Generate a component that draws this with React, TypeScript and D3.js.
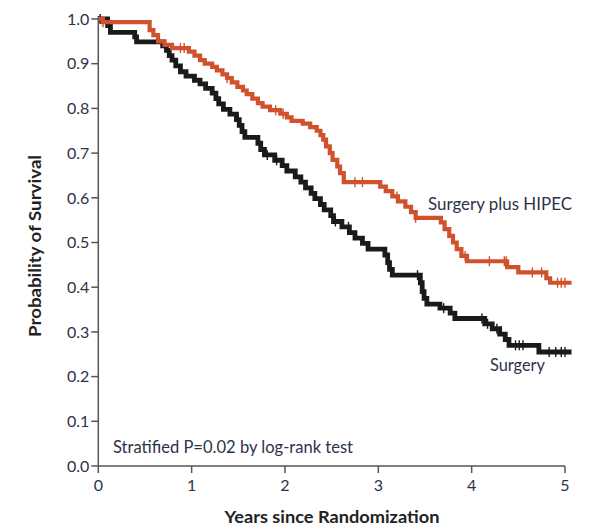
import React from "react";
import * as d3 from "d3";

// Kaplan–Meier step data: [years, survival probability after the event]
const hipecEvents: [number, number][] = [
  [0.05, 0.993], [0.55, 0.975], [0.59, 0.964], [0.64, 0.95], [0.71, 0.942], [0.79, 0.935],
  [0.97, 0.927], [1.03, 0.918], [1.09, 0.908], [1.14, 0.9], [1.22, 0.893], [1.27, 0.885],
  [1.33, 0.876], [1.38, 0.868], [1.43, 0.858], [1.49, 0.848], [1.55, 0.84], [1.59, 0.832],
  [1.65, 0.822], [1.71, 0.812], [1.76, 0.804], [1.84, 0.796], [1.95, 0.788], [2.02, 0.78],
  [2.07, 0.772], [2.19, 0.766], [2.27, 0.758], [2.34, 0.75], [2.38, 0.74], [2.41, 0.73],
  [2.44, 0.715], [2.48, 0.7], [2.51, 0.685], [2.56, 0.67], [2.59, 0.655], [2.63, 0.635],
  [3.02, 0.625], [3.08, 0.615], [3.15, 0.603], [3.21, 0.592], [3.29, 0.58], [3.35, 0.568],
  [3.4, 0.555], [3.67, 0.545], [3.71, 0.53], [3.76, 0.515], [3.8, 0.5], [3.84, 0.485],
  [3.89, 0.47], [3.95, 0.458], [4.38, 0.445], [4.5, 0.433], [4.8, 0.42], [4.84, 0.41],
];
const hipecCensored: number[] = [
  0.05, 0.88, 0.92, 1.38, 1.9, 1.98, 2.75, 2.83, 3.2, 3.4, 3.93, 4.19, 4.35, 4.37,
  4.65, 4.75, 4.92, 4.96, 5.0,
];

const surgeryEvents: [number, number][] = [
  [0.1, 0.985], [0.13, 0.97], [0.39, 0.96], [0.41, 0.949], [0.69, 0.94], [0.73, 0.93],
  [0.76, 0.918], [0.79, 0.908], [0.83, 0.895], [0.88, 0.882], [0.94, 0.872], [1.03, 0.863],
  [1.09, 0.855], [1.15, 0.845], [1.22, 0.834], [1.26, 0.822], [1.29, 0.81], [1.34, 0.798],
  [1.41, 0.787], [1.48, 0.775], [1.51, 0.762], [1.54, 0.748], [1.57, 0.735], [1.71, 0.722],
  [1.74, 0.708], [1.78, 0.696], [1.89, 0.684], [1.97, 0.672], [2.02, 0.66], [2.11, 0.647],
  [2.17, 0.635], [2.22, 0.622], [2.28, 0.61], [2.32, 0.598], [2.38, 0.585], [2.42, 0.573],
  [2.49, 0.56], [2.52, 0.547], [2.61, 0.535], [2.69, 0.522], [2.75, 0.51], [2.83, 0.498],
  [2.89, 0.485], [3.07, 0.472], [3.1, 0.455], [3.12, 0.44], [3.15, 0.427], [3.45, 0.41],
  [3.47, 0.39], [3.49, 0.375], [3.52, 0.362], [3.66, 0.353], [3.77, 0.342], [3.82, 0.33],
  [4.14, 0.318], [4.22, 0.307], [4.3, 0.295], [4.36, 0.283], [4.4, 0.27], [4.72, 0.255],
];
const surgeryCensored: number[] = [
  0.02, 1.5, 1.81, 1.91, 2.54, 2.68, 3.42, 3.7, 4.11, 4.17, 4.27, 4.47, 4.51, 4.55,
  4.83, 4.9, 4.96, 5.0,
];

const followUpEnd = 5.07;
const xTicks = [0, 1, 2, 3, 4, 5];
const yTicks = [0, 0.1, 0.2, 0.3, 0.4, 0.5, 0.6, 0.7, 0.8, 0.9, 1.0];

const W = 594;
const H = 528;
const FONT = "Lato, 'Open Sans', sans-serif";
const RED = "#d1512c";
const BLACK = "#1a1a1a";
const TICK_TEXT = "#2c3349";
const AXIS = "#555555";

const x = d3.scaleLinear().domain([0, 5]).range([98.3, 565]);
const y = d3.scaleLinear().domain([0, 1]).range([466, 19]);

function stepPoints(events: [number, number][]): [number, number][] {
  const pts: [number, number][] = [[0, 1], ...events];
  pts.push([followUpEnd, events[events.length - 1][1]]);
  return pts;
}

function survivalAt(events: [number, number][], t: number): number {
  let s = 1;
  for (const [et, es] of events) {
    if (et <= t) s = es;
    else break;
  }
  return s;
}

const line = d3
  .line<[number, number]>()
  .x((d) => x(d[0]))
  .y((d) => y(d[1]))
  .curve(d3.curveStepAfter);

function Curve({ events, censored, color, width }: {
  events: [number, number][];
  censored: number[];
  color: string;
  width: number;
}) {
  return (
    <g>
      <path d={line(stepPoints(events)) ?? ""} fill="none" stroke={color} strokeWidth={width} strokeLinejoin="miter" strokeLinecap="butt" />
      {censored.map((t, i) => {
        const cy = y(survivalAt(events, t));
        return (
          <line key={i} x1={x(t)} x2={x(t)} y1={cy - 5} y2={cy + 5} stroke={color} strokeWidth={1.4} />
        );
      })}
    </g>
  );
}

export default function App() {
  return (
    <svg
      width={W}
      height={H}
      viewBox={`0 0 ${W} ${H}`}
      style={{ position: "absolute", left: 0, top: 0, background: "#fff" }}
    >
      {/* axes */}
      <line x1={x(0)} x2={x(0)} y1={y(1) - 3} y2={y(0)} stroke={AXIS} strokeWidth={1.5} />
      <line x1={x(0)} x2={x(5)} y1={y(0)} y2={y(0)} stroke={AXIS} strokeWidth={1.5} />
      {yTicks.map((v) => (
        <g key={v}>
          <line x1={x(0) - 7} x2={x(0)} y1={y(v)} y2={y(v)} stroke={AXIS} strokeWidth={1.5} />
          <text x={x(0) - 9} y={y(v)} dy="0.36em" textAnchor="end" fontFamily={FONT} fontSize={16} fill={TICK_TEXT}>
            {v.toFixed(1)}
          </text>
        </g>
      ))}
      {xTicks.map((v) => (
        <g key={v}>
          <line x1={x(v)} x2={x(v)} y1={y(0)} y2={y(0) + 7} stroke={AXIS} strokeWidth={1.5} />
          <text x={x(v)} y={491} textAnchor="middle" fontFamily={FONT} fontSize={16} fill={TICK_TEXT}>
            {v}
          </text>
        </g>
      ))}

      {/* axis titles */}
      <text
        transform="translate(41,246) rotate(-90)"
        textAnchor="middle"
        fontFamily={FONT}
        fontWeight="bold"
        fontSize={17}
        textLength={182}
        lengthAdjust="spacingAndGlyphs"
        fill="#222"
      >
        Probability of Survival
      </text>
      <text
        x={332}
        y={523}
        textAnchor="middle"
        fontFamily={FONT}
        fontWeight="bold"
        fontSize={17}
        textLength={215}
        lengthAdjust="spacingAndGlyphs"
        fill="#222"
      >
        Years since Randomization
      </text>

      {/* survival curves */}
      <Curve events={surgeryEvents} censored={surgeryCensored} color={BLACK} width={4.8} />
      <Curve events={hipecEvents} censored={hipecCensored} color={RED} width={4.2} />

      {/* annotations */}
      <text x={428} y={210} fontFamily={FONT} fontSize={16.5} textLength={144} lengthAdjust="spacingAndGlyphs" fill={TICK_TEXT}>
        Surgery plus HIPEC
      </text>
      <text x={490} y={371} fontFamily={FONT} fontSize={16.5} textLength={55} lengthAdjust="spacingAndGlyphs" fill={TICK_TEXT}>
        Surgery
      </text>
      <text x={113} y={453} fontFamily={FONT} fontSize={16.5} textLength={240} lengthAdjust="spacingAndGlyphs" fill={TICK_TEXT}>
        Stratified P=0.02 by log-rank test
      </text>
    </svg>
  );
}
